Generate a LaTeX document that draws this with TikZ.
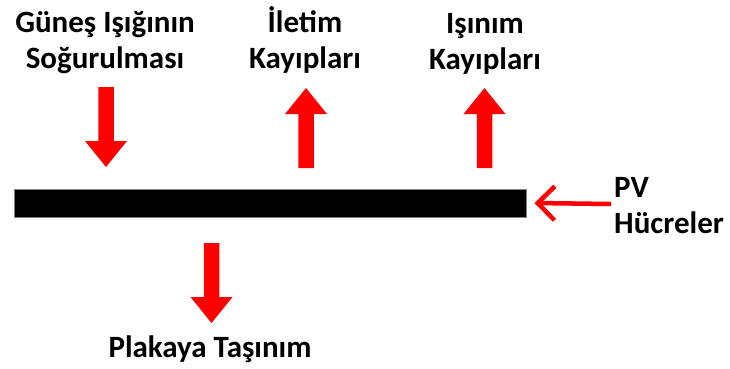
\documentclass[tikz,border=0pt]{standalone}
\usepackage{fontspec}
\setmainfont{Carlito}
\usetikzlibrary{arrows.meta}
\begin{document}
\begin{tikzpicture}[x=1pt,y=-1pt,
  lbl/.style={font=\fontsize{31}{36}\selectfont\bfseries, align=center, inner sep=0pt},
  panelbar/.style={draw=gray, line width=1pt, fill=black, minimum width=512pt, minimum height=28pt, inner sep=0pt},
  blockarrow/.pic={\fill[red] (-7.75,0) -- (-7.75,54) -- (-21,54) -- (0,80) -- (21,54) -- (7.75,54) -- (7.75,0) -- cycle;},
  pvarrow/.style={draw=red, line width=4.5pt, -{Straight Barb[length=17pt,width=34pt]}}]
  \useasboundingbox (0,0) rectangle (730,368);

  % PV panel
  \node[panelbar] (panel) at (270,203) {};

  % labels (anchored at the baseline of their last line)
  \node[lbl, anchor=base] (absorb) at (105,68) {Güneş Işığının\\Soğurulması};
  \node[lbl, anchor=base] (cond) at (305,68) {İletim\\Kayıpları};
  \node[lbl, anchor=base] (rad) at (485,69) {Işınım\\Kayıpları};
  \node[lbl, anchor=base west, align=left] (pv) at (614,233) {PV\\Hücreler};
  \node[lbl, anchor=base] (conv) at (210,357) {Plakaya Taşınım};

  % heat flows
  \pic (inflow) at (106,87) {blockarrow};
  \pic[rotate=180] (condflow) at (306,168) {blockarrow};
  \pic[rotate=180] (radflow) at (484.5,168) {blockarrow};
  \pic (convflow) at (211.5,243) {blockarrow};

  % cell pointer
  \coordinate (pvfrom) at (611,204);
  \draw[pvarrow] (pvfrom) -- ([xshift=8pt]panel.east);
\end{tikzpicture}
\end{document}
